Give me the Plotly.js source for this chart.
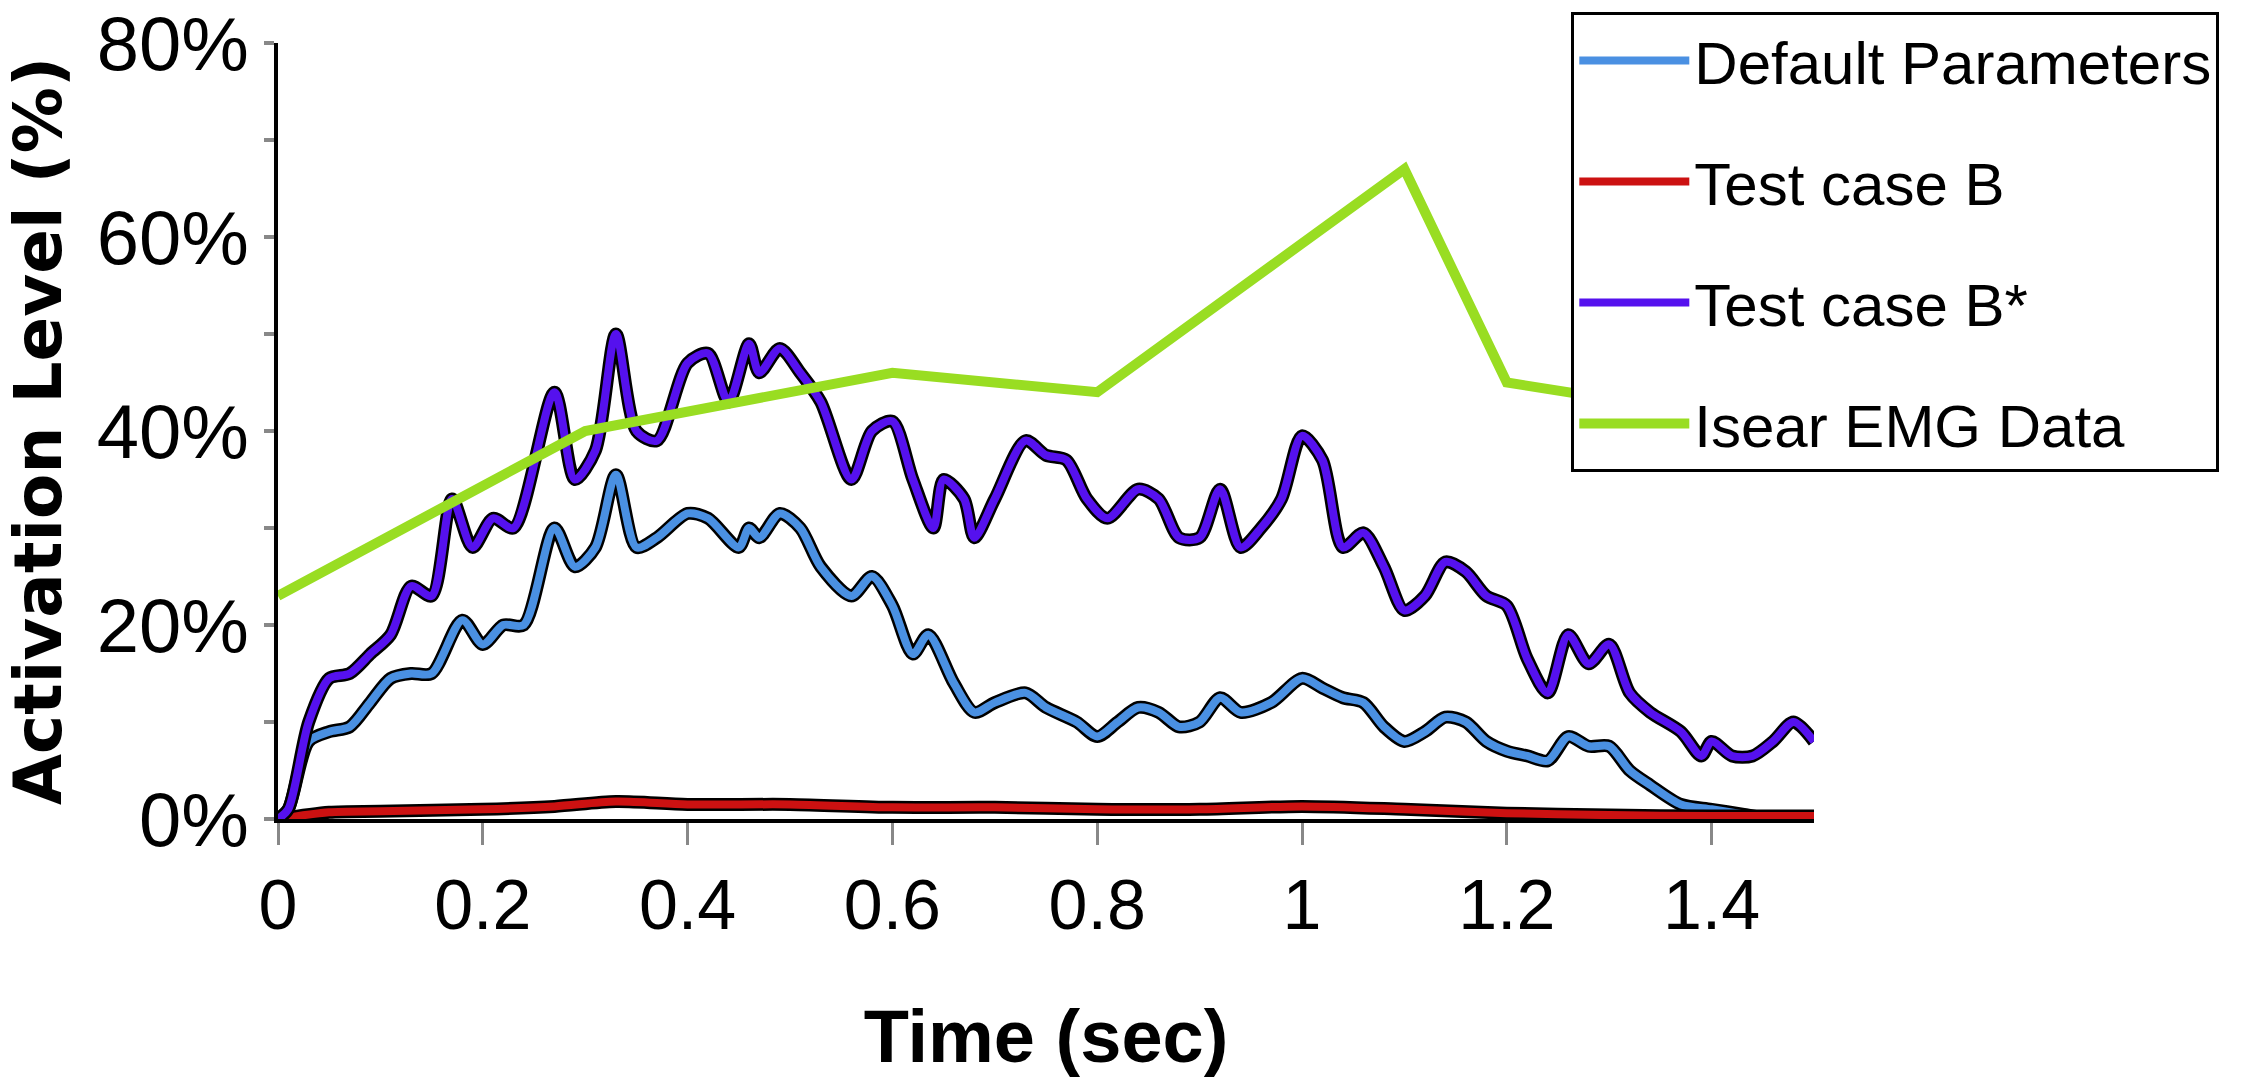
<!DOCTYPE html>
<html><head><meta charset="utf-8">
<script src="https://cdn.plot.ly/plotly-3.0.1.min.js"></script>
<style>body{margin:0}#chart{width:2261px;height:1078px}</style>
</head><body><div id="chart"></div>
<script>
// values (percent)
let defX = [0,0.01,0.03,0.05,0.07,0.09,0.11,0.13,0.15,0.18,0.2,0.22,0.24,0.27,0.29,0.31,0.33,0.35,0.37,0.4,0.42,0.45,0.46,0.47,0.49,0.51,0.53,0.56,0.58,0.6,0.62,0.635,0.66,0.68,0.7,0.73,0.75,0.78,0.8,0.82,0.84,0.86,0.88,0.9,0.92,0.94,0.97,1.0,1.02,1.04,1.06,1.08,1.1,1.12,1.14,1.16,1.18,1.2,1.22,1.24,1.26,1.28,1.3,1.32,1.34,1.37,1.4,1.43,1.46,1.5];
let defY = [0,1,8,9,9.5,12,14.5,15,15,20.5,18,20,20,30,26,28,35.5,28,29,31.5,31,28,30,29,31.5,30,26,23,25,22,17,19,14,11,12,13,11.5,10,8.5,10,11.5,11,9.5,10,12.5,11,12,14.5,13.5,12.5,12,9.5,8,9,10.5,10,8,7,6.5,6,8.5,7.5,7.5,5,3.5,1.5,1,0.5,0,0];
let bX = [0,0.05,0.1,0.2,0.27,0.33,0.4,0.5,0.6,0.7,0.8,0.9,1.0,1.1,1.2,1.3,1.4,1.5];
let bY = [0,0.7,0.8,1,1.3,1.8,1.5,1.5,1.2,1.2,1,1,1.3,1,0.6,0.4,0.3,0.3];
let bsX = [0,0.01,0.03,0.05,0.07,0.09,0.11,0.13,0.15,0.17,0.19,0.21,0.23,0.27,0.29,0.31,0.33,0.35,0.37,0.4,0.42,0.44,0.46,0.47,0.49,0.51,0.53,0.56,0.58,0.6,0.62,0.64,0.65,0.67,0.68,0.7,0.73,0.75,0.77,0.79,0.81,0.84,0.86,0.88,0.9,0.92,0.94,0.96,0.98,1.0,1.02,1.04,1.06,1.08,1.1,1.12,1.14,1.16,1.18,1.2,1.22,1.24,1.26,1.28,1.3,1.32,1.34,1.37,1.39,1.4,1.42,1.44,1.46,1.48,1.5];
let bsY = [0,1,10,14.5,15,17,19,24,23,33,28,31,30,44,35,38,50,40,39,47,48,43,49,46,48.5,46,43,35,40,41,35,30,35,33,29,33,39,37.5,37,33,31,34,33,29,29,34,28,30,33,39.5,37,28,29.5,26,21.5,23,26.5,25.5,23,22,16.5,13,19,16,18,13,11,9,6.5,8,6.5,6.5,8,10,8];
let emgX = [0,0.3,0.6,0.8,1.1,1.2,1.5];
let emgY = [23,40,46,44,67,45,40];

let names = ['Default Parameters','Test case B','Test case B*','Isear EMG Data'];
let colors = ['#4a90e2','#cc1111','#5511ee','#99dd22'];
let xs = [defX,bX,bsX,emgX];
let ys = [defY,bY,bsY,emgY];

let traces = [];
for (let i = 0; i < 4; i++) {
    let outlined = i < 3;
    if (outlined) {
        traces.push({x: xs[i], y: ys[i], mode: 'lines', line: {color: 'black', width: 13, shape: 'spline', smoothing: 0.8},
            showlegend: false, hoverinfo: 'skip'});
    }
    traces.push({x: xs[i], y: ys[i], mode: 'lines', name: names[i], legendgroup: 'g' + i,
        line: {color: colors[i], width: outlined ? 8 : 10, shape: i == 3 ? 'linear' : 'spline', smoothing: 0.8}});
}

let layout = {
    width: 2261, height: 1078,
    margin: {l: 278, r: 447, t: 28, b: 259},
    paper_bgcolor: 'white', plot_bgcolor: 'white',
    font: {family: 'Liberation Sans Narrow, Liberation Sans, sans-serif', color: 'black'},
    showlegend: true,
    legend: {x: 0.842, y: 1.04, xanchor: 'left', yanchor: 'top', bgcolor: 'white', bordercolor: 'black', borderwidth: 3,
        font: {size: 60}, traceorder: 'grouped', tracegroupgap: 40, itemwidth: 110},
    xaxis: {range: [0, 1.5], tickvals: [0,0.2,0.4,0.6,0.8,1,1.2,1.4], ticktext: ['0','0.2','0.4','0.6','0.8','1','1.2','1.4'],
        showgrid: false, zeroline: false, showline: true, linecolor: 'black', linewidth: 4,
        ticks: 'outside', ticklen: 22, tickwidth: 3, tickcolor: '#888', tickfont: {size: 70},
        title: {text: '<b>Time (sec)</b>', font: {size: 74}, standoff: 80}},
    yaxis: {range: [0, 80], tickvals: [0,20,40,60,80], ticktext: ['0%','20%','40%','60%','80%'],
        showgrid: false, zeroline: false, showline: true, linecolor: 'black', linewidth: 4,
        ticks: 'outside', ticklen: 10, tickwidth: 4, tickcolor: '#888', tickfont: {size: 76},
        minor: {tickvals: [10,30,50,70], ticks: 'outside', ticklen: 10, tickcolor: '#888', tickwidth: 4},
        title: {text: '<b>Activation Level (%)</b>', font: {size: 66, family: 'DejaVu Sans, sans-serif'}, standoff: 20}}
};
Plotly.newPlot('chart', traces, layout, {displayModeBar: false});
</script></body></html>
